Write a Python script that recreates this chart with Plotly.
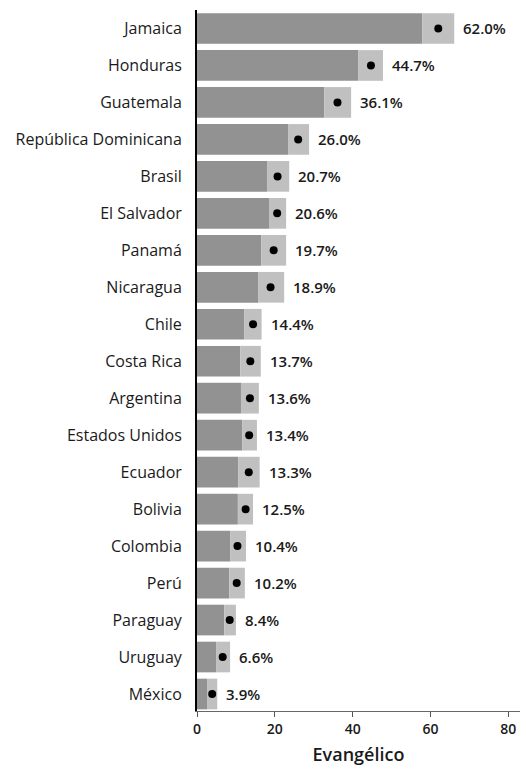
import plotly.graph_objects as go

countries = ["Jamaica", "Honduras", "Guatemala", "República Dominicana", "Brasil",
             "El Salvador", "Panamá", "Nicaragua", "Chile", "Costa Rica", "Argentina",
             "Estados Unidos", "Ecuador", "Bolivia", "Colombia", "Perú", "Paraguay",
             "Uruguay", "México"]
values = [62.0, 44.7, 36.1, 26.0, 20.7, 20.6, 19.7, 18.9, 14.4, 13.7, 13.6,
          13.4, 13.3, 12.5, 10.4, 10.2, 8.4, 6.6, 3.9]
lower = [57.9, 41.4, 32.7, 23.4, 18.0, 18.5, 16.5, 15.7, 12.2, 11.1, 11.3,
         11.6, 10.6, 10.5, 8.5, 8.3, 7.0, 4.9, 2.7]
upper = [66.1, 47.8, 39.6, 28.8, 23.7, 22.9, 22.9, 22.4, 16.6, 16.4, 15.9,
         15.4, 16.1, 14.4, 12.6, 12.3, 10.0, 8.5, 5.2]
x_ticks = [0, 20, 40, 60, 80]

# plot from bottom to top
cats = countries[::-1]
vals = values[::-1]
lo = lower[::-1]
hi = upper[::-1]
ci = [h - l for h, l in zip(hi, lo)]

fig = go.Figure()
fig.add_trace(go.Bar(y=cats, x=lo, orientation="h",
                     marker=dict(color="#929292", line=dict(width=0)),
                     hoverinfo="skip", showlegend=False))
fig.add_trace(go.Bar(y=cats, x=ci, base=lo, orientation="h",
                     marker=dict(color="#c0c0c0", line=dict(width=0)),
                     hoverinfo="skip", showlegend=False))
fig.add_trace(go.Scatter(y=cats, x=vals, mode="markers",
                         marker=dict(color="black", size=8, symbol="circle"),
                         showlegend=False))

for c, v, h in zip(cats, vals, hi):
    fig.add_annotation(x=h, y=c, text=f"{v:.1f}%", showarrow=False,
                       xanchor="left", yanchor="middle", xshift=7,
                       font=dict(family="Open Sans", size=15, color="#1a1a1a", weight=600))

fig.update_layout(
    width=522, height=766,
    margin=dict(l=197, r=2, t=10, b=55, autoexpand=False),
    plot_bgcolor="white", paper_bgcolor="white",
    barmode="overlay", bargap=0.17,
    font=dict(family="Open Sans", size=15, color="#1a1a1a"),
)
fig.update_xaxes(range=[0, 83], tickvals=x_ticks, ticks="outside", ticklen=5,
                 tickcolor="#555555", showline=True, linecolor="#666666", linewidth=1,
                 showgrid=False, zeroline=False, automargin=False,
                 tickfont=dict(size=14, color="#1a1a1a", weight=600),
                 title=dict(text="Evangélico", font=dict(size=18, color="#1a1a1a", weight=600),
                            standoff=14))
fig.update_yaxes(range=[-0.46, 18.5], showline=True, linecolor="black", linewidth=2,
                 showgrid=False, zeroline=False, ticks="", automargin=False,
                 tickfont=dict(size=16, color="#1a1a1a"), ticklabelstandoff=10)

fig.write_html("out.html", config={"displayModeBar": False},
               post_script="document.body.style.margin='0';document.body.style.overflow='hidden';")
